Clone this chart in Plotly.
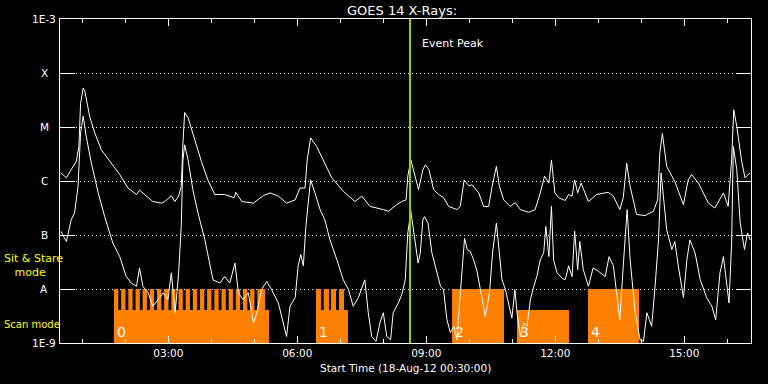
import plotly.graph_objects as go

# ---------------- data ----------------
# time in hours (UT) on 18-Aug-12, flux as log10(W/m^2)
t_long = [0.50,0.63,0.74,0.86,0.92,0.96,1.02,1.06,1.17,1.29,
          1.44,1.67,1.87,2.06,2.26,2.33,2.45,2.64,2.84,2.92,
          3.07,3.15,3.24,3.30,3.34,3.38,3.46,3.61,3.77,3.92,
          4.08,4.31,4.53,4.57,4.71,4.98,5.21,5.37,5.56,5.75,
          5.95,6.06,6.18,6.23,6.31,6.45,6.60,6.80,7.07,7.34,
          7.50,7.69,8.00,8.12,8.31,8.43,8.53,8.57,8.64,8.71,
          8.82,8.92,8.98,9.06,9.17,9.29,9.40,9.52,9.71,9.79,
          9.88,9.99,10.06,10.22,10.33,10.45,10.53,10.63,10.70,10.80,
          10.95,11.07,11.19,11.38,11.53,11.65,11.75,11.85,11.91,11.99,
          12.08,12.23,12.31,12.39,12.45,12.52,12.60,12.77,12.96,13.23,
          13.35,13.50,13.58,13.66,13.74,13.89,14.09,14.28,14.38,14.43,
          14.49,14.59,14.78,14.98,15.09,15.17,15.33,15.56,15.71,15.91,
          16.02,16.10,16.15,16.22,16.33,16.41,16.49,16.53]
log_long = [-5.85,-5.94,-5.79,-5.64,-5.36,-4.56,-4.28,-4.34,-4.80,-5.11,
            -5.42,-5.67,-5.88,-6.13,-6.25,-6.17,-6.25,-6.38,-6.41,-6.38,
            -6.27,-6.38,-6.28,-6.10,-5.30,-4.73,-4.83,-5.24,-5.64,-5.98,
            -6.25,-6.25,-6.31,-6.21,-6.38,-6.41,-6.27,-6.22,-6.28,-6.41,
            -6.35,-6.13,-6.13,-5.61,-5.20,-5.36,-5.61,-5.94,-6.19,-6.38,
            -6.28,-6.47,-6.53,-6.56,-6.44,-6.38,-6.35,-5.91,-5.61,-5.82,
            -6.16,-5.79,-5.70,-5.79,-6.16,-6.25,-6.31,-6.47,-6.53,-6.47,
            -5.98,-6.09,-6.07,-6.22,-6.47,-6.47,-6.10,-5.73,-6.10,-6.35,
            -6.47,-6.40,-6.53,-6.58,-6.53,-6.22,-5.91,-6.04,-5.61,-6.22,
            -6.31,-6.36,-6.25,-6.28,-5.98,-6.22,-6.04,-6.38,-6.25,-6.21,
            -6.28,-6.53,-6.31,-5.67,-6.10,-6.62,-6.64,-6.56,-6.35,-5.48,
            -5.12,-5.73,-6.01,-6.44,-5.98,-5.88,-6.04,-6.41,-6.50,-6.22,
            -6.47,-5.61,-4.68,-4.99,-5.61,-5.94,-5.88,-5.85]

t_short = [0.50,0.63,0.74,0.82,0.90,0.96,1.02,1.09,1.21,1.37,
           1.52,1.71,1.87,2.02,2.14,2.26,2.33,2.41,2.53,2.64,
           2.76,2.88,2.99,3.07,3.16,3.24,3.30,3.34,3.38,3.46,
           3.57,3.69,3.85,4.04,4.20,4.31,4.43,4.55,4.63,4.74,
           4.86,4.98,5.06,5.17,5.29,5.40,5.56,5.67,5.75,5.83,
           5.95,6.02,6.08,6.14,6.20,6.26,6.31,6.41,6.53,6.64,
           6.76,6.92,7.07,7.19,7.30,7.42,7.52,7.57,7.65,7.73,
           7.83,7.92,8.00,8.08,8.17,8.23,8.35,8.43,8.51,8.57,
           8.64,8.71,8.81,8.86,8.92,8.96,9.04,9.13,9.25,9.33,
           9.40,9.48,9.56,9.64,9.71,9.79,9.85,9.89,9.95,10.02,
           10.10,10.18,10.30,10.37,10.47,10.54,10.63,10.70,10.76,10.84,
           10.92,10.99,11.06,11.11,11.19,11.27,11.34,11.42,11.50,11.57,
           11.65,11.73,11.78,11.85,11.91,11.96,12.04,12.16,12.23,12.31,
           12.39,12.45,12.52,12.57,12.65,12.77,12.88,13.00,13.16,13.25,
           13.35,13.43,13.50,13.58,13.64,13.67,13.74,13.85,13.97,14.05,
           14.13,14.18,14.24,14.32,14.40,14.46,14.49,14.59,14.71,14.78,
           14.86,14.98,15.06,15.13,15.25,15.37,15.52,15.64,15.73,15.83,
           15.91,15.99,16.04,16.10,16.14,16.22,16.30,16.40,16.47,16.53]
log_short = [-6.93,-7.12,-6.72,-6.59,-6.10,-5.11,-4.80,-5.17,-5.67,-6.22,
             -6.66,-7.15,-7.40,-7.77,-7.89,-7.95,-7.61,-7.95,-8.07,-8.32,
             -8.20,-8.07,-8.20,-7.70,-8.44,-7.70,-6.84,-5.61,-5.33,-5.61,
             -6.16,-6.59,-7.09,-7.83,-7.89,-7.77,-7.89,-7.52,-8.07,-8.20,
             -8.07,-8.63,-8.44,-8.01,-7.86,-8.01,-8.26,-8.63,-8.88,-8.32,
             -8.16,-7.57,-7.36,-7.57,-6.84,-6.35,-5.98,-6.22,-6.53,-6.72,
             -7.09,-7.46,-7.83,-8.01,-8.32,-8.16,-7.95,-7.83,-8.44,-8.88,
             -8.97,-8.63,-8.44,-8.88,-8.94,-8.44,-8.26,-8.10,-7.83,-6.96,
             -6.56,-6.96,-7.52,-7.33,-6.72,-6.66,-6.78,-7.33,-7.70,-7.95,
             -8.01,-8.57,-8.81,-8.69,-8.94,-8.01,-7.46,-7.06,-7.27,-7.30,
             -7.46,-7.67,-8.20,-8.51,-8.07,-7.33,-6.78,-7.33,-7.83,-8.01,
             -8.32,-8.54,-8.01,-8.44,-8.88,-8.63,-8.69,-8.20,-7.95,-7.77,
             -7.46,-7.33,-6.84,-7.40,-6.47,-7.46,-7.70,-7.80,-7.83,-7.57,
             -7.77,-6.93,-7.64,-7.12,-7.64,-7.95,-7.61,-7.67,-7.77,-7.40,
             -7.57,-8.07,-8.57,-7.57,-6.84,-6.53,-7.46,-8.38,-8.94,-8.97,
             -8.44,-8.57,-8.69,-7.95,-7.09,-5.85,-6.10,-6.90,-7.27,-7.12,
             -7.57,-8.16,-7.46,-7.09,-7.33,-7.83,-8.16,-8.32,-8.57,-7.70,
             -7.40,-7.95,-8.26,-7.15,-5.36,-5.79,-6.78,-7.27,-6.96,-7.09]

# observing blocks (hours)
scan_start = [1.737, 6.435, 11.109]
scan_end = [5.342, 7.179, 12.319]
sit_start = [1.737, 1.903, 2.070, 2.237, 2.403, 2.570, 2.737, 2.903, 3.070, 3.237,
             3.403, 3.570, 3.737, 3.903, 4.070, 4.237, 4.403, 4.570, 4.737, 4.903,
             5.070, 6.435, 6.614, 6.784, 6.970, 9.598, 12.760]
sit_end = [1.837, 2.003, 2.170, 2.337, 2.503, 2.670, 2.837, 3.003, 3.170, 3.337,
           3.503, 3.670, 3.837, 4.003, 4.170, 4.337, 4.503, 4.670, 4.837, 5.003,
           5.249, 6.551, 6.737, 6.900, 7.086, 10.807, 13.947]
scan_level = 10 ** -8.39
sit_level = 1e-8
obs_ids = ["0", "1", "2", "3", "4"]
obs_label_t = [1.737, 6.435, 9.598, 11.109, 12.760]

event_peak_t = 8.621

y_levels = [-9, -8, -7, -6, -5, -4, -3]
y_labels = ["1E-9", "A", "B", "C", "M", "X", "1E-3"]
x_ticks = [3, 6, 9, 12, 15]
x_ticktext = ["03:00", "06:00", "09:00", "12:00", "15:00"]

# ---------------- figure ----------------
ORANGE = "#ff8000"
FONT = "DejaVu Sans"
base = 1e-9


def blocks(starts, ends, top):
    xs, ys = [], []
    for s, e in zip(starts, ends):
        xs += [s, s, e, e, s, None]
        ys += [base, top, top, base, base, None]
    return xs, ys


fig = go.Figure()
for st, en, lv in [(scan_start, scan_end, scan_level), (sit_start, sit_end, sit_level)]:
    bx, by = blocks(st, en, lv)
    fig.add_trace(go.Scatter(x=bx, y=by, mode="lines", fill="toself",
                             fillcolor=ORANGE, line=dict(color=ORANGE, width=0),
                             hoverinfo="skip"))

fig.add_trace(go.Scatter(x=t_long, y=[10 ** v for v in log_long], mode="lines",
                         line=dict(color="white", width=1)))
fig.add_trace(go.Scatter(x=t_short, y=[10 ** v for v in log_short], mode="lines",
                         line=dict(color="white", width=1)))

fig.add_shape(type="line", xref="x", yref="paper", x0=event_peak_t, x1=event_peak_t,
              y0=0, y1=1, line=dict(color="#99cc00", width=2), layer="above")

W_PLOT = 691.0
H_PLOT = 324.0
ann = []
for lv, lab in zip(y_levels, y_labels):
    ann.append(dict(x=-16 / W_PLOT, xref="paper", y=lv, yref="y", text=lab,
                    showarrow=False, xanchor="center", yanchor="middle",
                    font=dict(family=FONT, size=10.5, color="white")))
for tid, tt in zip(obs_ids, obs_label_t):
    ann.append(dict(x=tt, xref="x", y=-8.79, yref="y", text=tid, showarrow=False,
                    xanchor="left", yanchor="middle", xshift=1,
                    font=dict(family=FONT, size=14, color="white")))
ann.append(dict(x=event_peak_t, xref="x", y=(343 - 43) / H_PLOT, yref="paper",
                text="Event Peak", showarrow=False, xanchor="left", yanchor="middle",
                xshift=10, font=dict(family=FONT, size=11, color="white")))
ann.append(dict(x=(401.5 - 60) / W_PLOT, xref="paper", y=(343 - 10) / H_PLOT, yref="paper",
                text="GOES 14 X-Rays:", showarrow=False, xanchor="center", yanchor="middle",
                font=dict(family=FONT, size=13, color="white")))
ann.append(dict(x=(405 - 60) / W_PLOT, xref="paper", y=(343 - 368) / H_PLOT, yref="paper",
                text="Start Time (18-Aug-12 00:30:00)", showarrow=False,
                xanchor="center", yanchor="middle",
                font=dict(family=FONT, size=10.5, color="white")))
ann.append(dict(x=(2 - 60) / W_PLOT, xref="paper", y=(343 - 265) / H_PLOT, yref="paper",
                text="Sit & Stare<br>\u00a0\u00a0\u00a0mode", showarrow=False,
                xanchor="left", yanchor="middle", align="left",
                font=dict(family=FONT, size=11, color="#ffff00")))
ann.append(dict(x=(2 - 60) / W_PLOT, xref="paper", y=(343 - 324) / H_PLOT, yref="paper",
                text="Scan mode", showarrow=False, xanchor="left", yanchor="middle",
                font=dict(family=FONT, size=10, color="#ffff00")))

fig.update_layout(
    width=768, height=384,
    margin=dict(l=60, r=17, t=19, b=41),
    paper_bgcolor="black", plot_bgcolor="black",
    showlegend=False,
    font=dict(family=FONT, color="white", size=10.5),
    annotations=ann,
    xaxis=dict(range=[0.481, 16.551], tickvals=x_ticks, ticktext=x_ticktext,
               ticks="inside", ticklen=7, tickwidth=1, tickcolor="white",
               minor=dict(ticks="inside", ticklen=4, dtick=1, tick0=0,
                          tickcolor="white", tickwidth=1, showgrid=False),
               showline=True, linecolor="white", linewidth=1, mirror="ticks",
               showgrid=False, zeroline=False,
               tickfont=dict(family=FONT, size=10.5, color="white")),
    yaxis=dict(type="log", range=[-9, -3], tickvals=[10.0 ** v for v in y_levels],
               ticks="inside", ticklen=15, tickwidth=1, tickcolor="white",
               showticklabels=False, showline=True, linecolor="white", linewidth=1,
               mirror="ticks", showgrid=True, gridcolor="white", gridwidth=1,
               griddash="1px,3px", zeroline=False),
)

fig.write_html("out.html", config={"displayModeBar": False},
               post_script="document.body.style.margin='0';document.body.style.overflow='hidden';document.body.style.background='black';")
